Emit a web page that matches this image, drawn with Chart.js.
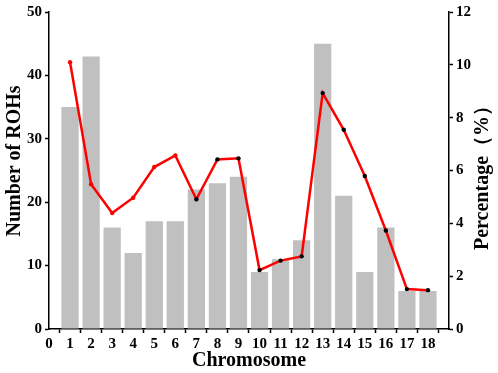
<!DOCTYPE html>
<html>
<head>
<meta charset="utf-8">
<script src="https://cdn.jsdelivr.net/npm/chart.js@4"></script>
<style>
  html, body { margin: 0; padding: 0; background: #fff; }
  #wrap { width: 498px; height: 373px; }
</style>
</head>
<body>
<div id="wrap"><canvas id="chart" width="498" height="373"></canvas></div>
<script>
// Chromosome data
const chromosomes = [1, 2, 3, 4, 5, 6, 7, 8, 9, 10, 11, 12, 13, 14, 15, 16, 17, 18];
const rohCounts = [35, 43, 16, 12, 17, 17, 22, 23, 24, 9, 11, 14, 45, 21, 9, 16, 6, 6];
const rohPercent = [10.1, 5.48, 4.39, 4.97, 6.13, 6.57, 4.91, 6.42, 6.46, 2.23, 2.59, 2.75, 8.93, 7.54, 5.79, 3.73, 1.51, 1.47];
const leftTicks = [0, 10, 20, 30, 40, 50];
const rightTicks = [0, 2, 4, 6, 8, 10, 12];

const FONT = "'Liberation Serif', 'Times New Roman', serif";
const tickFont = { family: FONT, size: 15, weight: 'bold' };
const titleFont = { family: FONT, size: 20, weight: 'bold' };

// markers: first six red, rest black
const markerColors = chromosomes.map((c, i) => i < 6 ? '#ff0000' : '#000000');

// both y titles read bottom-to-top; drawn by hand so they sit where the original has them
const yTitles = {
  id: 'yTitles',
  afterDraw(chart) {
    const ctx = chart.ctx;
    const draw = (text, x, y) => {
      ctx.save();
      ctx.translate(x, y);
      ctx.rotate(-Math.PI / 2);
      ctx.font = 'bold 20px ' + FONT;
      ctx.fillStyle = '#000';
      ctx.textAlign = 'center';
      ctx.textBaseline = 'middle';
      ctx.fillText(text, 0, 0);
      ctx.restore();
    };
    draw('Number of ROHs', 15, 161);
    draw('Percentage（%）', 483, 173);
  }
};

new Chart(document.getElementById('chart'), {
  type: 'bar',
  data: {
    datasets: [
      {
        type: 'line',
        data: chromosomes.map((c, i) => ({ x: c, y: rohPercent[i] })),
        yAxisID: 'y1',
        borderColor: '#ff0000',
        borderWidth: 2.5,
        pointRadius: 2.2,
        pointBackgroundColor: markerColors,
        pointBorderColor: markerColors,
        pointBorderWidth: 0,
        tension: 0,
        order: 0
      },
      {
        type: 'bar',
        data: chromosomes.map((c, i) => ({ x: c, y: rohCounts[i] })),
        yAxisID: 'y',
        backgroundColor: '#c0c0c0',
        borderWidth: 0,
        barPercentage: 0.82,
        categoryPercentage: 1,
        order: 1
      }
    ]
  },
  options: {
    responsive: false,
    animation: false,
    layout: { padding: { top: 8, left: 0, right: 0, bottom: 0 } },
    plugins: { legend: { display: false }, tooltip: { enabled: false } },
    scales: {
      x: {
        type: 'linear',
        min: 0,
        max: 19,
        offset: false,
        afterFit: s => { s.height = 44; },
        border: { color: '#000', width: 1.5 },
        grid: { drawOnChartArea: false, drawTicks: true, tickLength: 4, tickColor: '#000', tickWidth: 1.5 },
        ticks: {
          stepSize: 1,
          autoSkip: false,
          maxRotation: 0,
          padding: 2,
          color: '#000',
          font: tickFont,
          callback: v => (v >= 0 && v <= chromosomes[chromosomes.length - 1]) ? v : ''
        },
        title: { display: true, text: 'Chromosome', color: '#000', font: titleFont, padding: { top: 0, bottom: 0 } }
      },
      y: {
        position: 'left',
        min: leftTicks[0],
        max: leftTicks[leftTicks.length - 1],
        afterFit: s => { s.width = 49; },
        afterBuildTicks: s => { s.ticks = leftTicks.map(v => ({ value: v })); },
        border: { color: '#000', width: 1.5 },
        grid: { drawOnChartArea: false, drawTicks: true, tickLength: 4, tickColor: '#000', tickWidth: 1.5 },
        ticks: { padding: 3, color: '#000', font: tickFont }
      },
      y1: {
        position: 'right',
        min: rightTicks[0],
        max: rightTicks[rightTicks.length - 1],
        afterFit: s => { s.width = 49; },
        afterBuildTicks: s => { s.ticks = rightTicks.map(v => ({ value: v })); },
        border: { color: '#000', width: 1.5 },
        grid: { drawOnChartArea: false, drawTicks: true, tickLength: 4, tickColor: '#000', tickWidth: 1.5 },
        ticks: { padding: 3, color: '#000', font: tickFont }
      }
    }
  },
  plugins: [yTitles]
});
</script>
</body>
</html>
